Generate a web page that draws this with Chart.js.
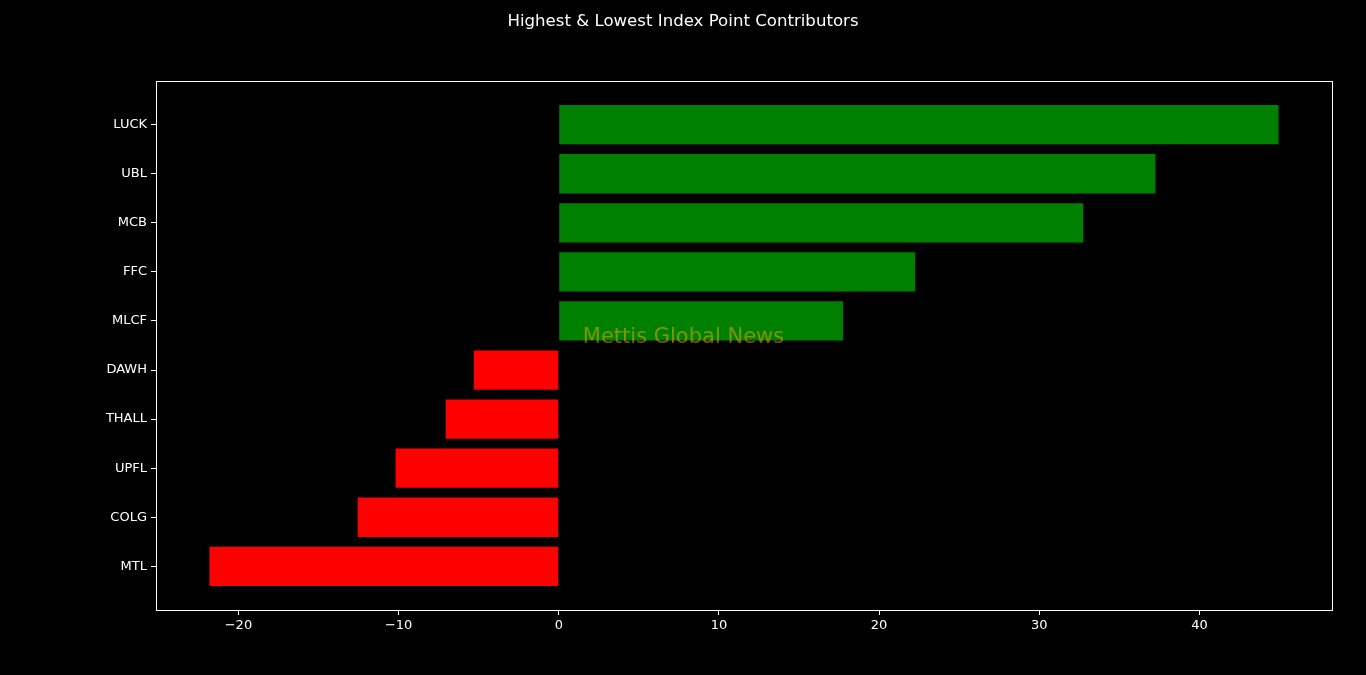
<!DOCTYPE html>
<html lang="en">
<head>
    <meta charset="UTF-8">
    <title>Index Point Contributors</title>
    <script src="https://cdn.jsdelivr.net/npm/chart.js@4.4.0/dist/chart.umd.min.js"></script>
    <style>
        body { margin: 0; background: #000; }
    </style>
</head>
<body>
    <canvas id="myChart" width="1366" height="675"></canvas>

    <script>
        'use strict';

        // data, top to bottom
        const stocks = ['LUCK', 'UBL', 'MCB', 'FFC', 'MLCF', 'DAWH', 'THALL', 'UPFL', 'COLG', 'MTL'];
        const points = [44.94, 37.25, 32.75, 22.25, 17.75, -5.31, -7.06, -10.19, -12.56, -21.81];
        const xTicks = [-20, -10, 0, 10, 20, 30, 40];
        const chartTitle = 'Highest & Lowest Index Point Contributors';
        const watermark = 'Mettis Global News';

        const FONT = 'DejaVu Sans';

        // matplotlib style 5% margins
        const lo = Math.min(0, ...points), hi = Math.max(0, ...points);
        const pad = (hi - lo) * 0.05;

        const minus = v => v < 0 ? '\u2212' + Math.abs(v) : String(v);

        const decor = {
            id: 'decor',
            afterDatasetsDraw(chart) {
                const { ctx, chartArea: a, scales } = chart;
                ctx.save();
                // spines
                ctx.strokeStyle = '#fff';
                ctx.lineWidth = 1;
                ctx.strokeRect(a.left + 0.5, a.top + 0.5, a.right - a.left, a.bottom - a.top);
                // watermark
                ctx.fillStyle = 'rgba(255, 170, 0, 0.5)';
                ctx.font = '21px "' + FONT + '"';
                ctx.textBaseline = 'middle';
                ctx.fillText(watermark, scales.x.getPixelForValue(1.5), scales.y.getPixelForValue(4.33));
                // title
                ctx.fillStyle = '#fff';
                ctx.font = '16.6px "' + FONT + '"';
                ctx.textAlign = 'center';
                ctx.fillText(chartTitle, chart.width / 2, 22);
                ctx.restore();
            }
        };

        const ctx = document.getElementById('myChart').getContext('2d');
        const myChart = new Chart(ctx, {
            type: 'bar',
            data: {
                datasets: [{
                    data: points.map((v, i) => ({ x: v, y: i })),
                    backgroundColor: points.map(v => v >= 0 ? '#008000' : '#ff0000'),
                    borderWidth: 0,
                    barPercentage: 0.8,
                    categoryPercentage: 1.0
                }]
            },
            options: {
                indexAxis: 'y',
                responsive: false,
                animation: false,
                layout: { padding: { top: 81, right: 34, left: 0, bottom: 0 } },
                plugins: {
                    legend: { display: false },
                    tooltip: { enabled: false }
                },
                scales: {
                    x: {
                        type: 'linear',
                        min: lo - pad,
                        max: hi + pad,
                        afterBuildTicks: axis => { axis.ticks = xTicks.map(v => ({ value: v })); },
                        afterFit: axis => { axis.height = 65; },
                        border: { display: false },
                        grid: { drawOnChartArea: false, drawTicks: true, tickLength: 5, color: '#fff' },
                        ticks: {
                            color: '#fff',
                            padding: 3,
                            font: { family: FONT, size: 13 },
                            callback: v => minus(v)
                        }
                    },
                    y: {
                        type: 'linear',
                        reverse: true,
                        offset: false,
                        min: -0.89,
                        max: stocks.length - 1 + 0.89,
                        afterBuildTicks: axis => { axis.ticks = stocks.map((s, i) => ({ value: i })); },
                        afterFit: axis => { axis.width = 156; },
                        border: { display: false },
                        grid: { offset: false, drawOnChartArea: false, drawTicks: true, tickLength: 5, color: '#fff' },
                        ticks: {
                            color: '#fff',
                            padding: 4,
                            font: { family: FONT, size: 13 },
                            callback: v => stocks[v]
                        }
                    }
                }
            },
            plugins: [decor]
        });
    </script>
</body>
</html>
